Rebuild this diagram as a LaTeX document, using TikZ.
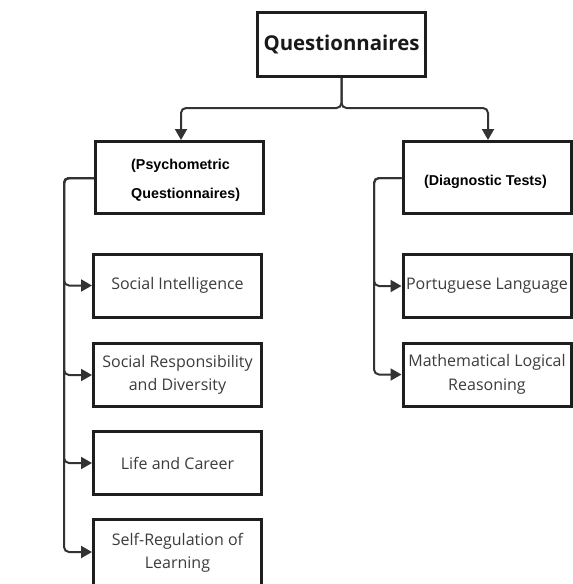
\documentclass[tikz,border=0pt]{standalone}
\usepackage{fontspec}
\setmainfont{Open Sans}
\newfontfamily\arialbold{Liberation Sans}[BoldFont={* Bold}]
\usetikzlibrary{arrows.meta}
\definecolor{edgegray}{HTML}{333333}
\definecolor{textgray}{HTML}{3C3C3C}
\definecolor{boxline}{HTML}{1E1E1E}
\tikzset{
  box/.style={draw=boxline, line width=3pt, fill=white, minimum width=168pt,
    inner sep=2pt, align=center},
  leaf/.style={box, minimum height=63pt, text=textgray,
    font=\fontsize{16}{23.5}\selectfont},
  head/.style={box, minimum height=72pt},
  headtext/.style={font=\arialbold\bfseries\fontsize{14.3}{29}\selectfont,
    inner sep=0pt},
  link/.style={draw=edgegray, line width=2pt, rounded corners=5pt,
    -{Triangle[length=11pt,width=12pt]}},
}
\begin{document}
\begin{tikzpicture}[x=1pt,y=-1pt]
\useasboundingbox (0,0) rectangle (573,584);

% top-level node
\node[box, minimum width=168pt, minimum height=64pt,
  font=\bfseries\fontsize{20.4}{24}\selectfont, text=black!90]
  (top) at (341.5,44.5) {Questionnaires};

% the two categories
\node[head] (psych) at (179.5,177.5) {};
\node[headtext, align=left, anchor=west] (psychtext) at (131,180.5)
  {(Psychometric\\Questionnaires)};
\node[head] (diag) at (487,177.5) {};
\node[headtext] (diagtext) at (485.5,182) {(Diagnostic Tests)};

% psychometric questionnaires
\node[leaf] (social) at (177.5,285.5) {Social Intelligence};
\node[leaf] (resp) at (177.5,375) {Social Responsibility\\and Diversity};
\node[leaf] (life) at (177.5,463) {Life and Career};
\node[leaf, minimum height=68pt] (selfreg) at (177.5,553) {Self-Regulation of\\Learning};

% diagnostic tests
\node[leaf] (port) at (487,286) {Portuguese Language};
\node[leaf] (math) at (487,374.5) {Mathematical Logical\\Reasoning};

% branches from the top
\draw[link] (top.south) |- (181,108) -- (psych.north -| 181,0);
\draw[link] (top.south) |- (488,108) -- (diag.north -| 488,0);

% spines on the left of each column
\coordinate (lspine) at (64,178);
\coordinate (rspine) at (374,178);
\foreach \n/\yy in {social/285.5,resp/375,life/463,selfreg/552}
  \draw[link] (psych.west |- lspine) -- (lspine) |- (\n.west |- 0,\yy);
\foreach \n in {port,math}
  \draw[link] (diag.west |- rspine) -- (rspine) |- (\n.west);
\end{tikzpicture}
\end{document}
